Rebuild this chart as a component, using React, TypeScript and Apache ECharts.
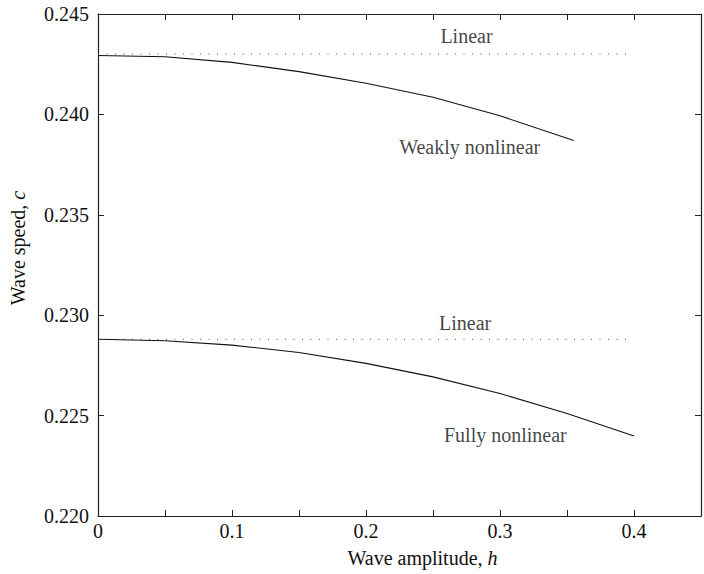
import React, { useEffect, useRef } from "react";
import * as echarts from "echarts";

const FONT = "'Liberation Serif', 'Times New Roman', 'DejaVu Serif', serif";

// Wave amplitude h (x) and wave speed c (y)
const weaklyH = [0, 0.05, 0.1, 0.15, 0.2, 0.25, 0.3, 0.355];
const weaklyC = [0.24293, 0.24287, 0.24259, 0.24213, 0.24155, 0.24085, 0.23993, 0.2387];

const fullyH = [0, 0.05, 0.1, 0.15, 0.2, 0.25, 0.3, 0.35, 0.4];
const fullyC = [0.2288, 0.22873, 0.22851, 0.22814, 0.2276, 0.22693, 0.2261, 0.2251, 0.22398];

const linearUpperH = [0, 0.395];
const linearUpperC = [0.2430, 0.2430];
const linearLowerH = [0, 0.395];
const linearLowerC = [0.2288, 0.2288];

const annotations: [number, number, string][] = [
  [0.275, 0.24388, "Linear"],
  [0.2774, 0.2384, "Weakly nonlinear"],
  [0.274, 0.22962, "Linear"],
  [0.304, 0.22402, "Fully nonlinear"],
];

const xMin = 0, xMax = 0.45, xStep = 0.05;
const yMin = 0.22, yMax = 0.245, yStep = 0.005;

const zip = (xs: number[], ys: number[]) => xs.map((x, i) => [x, ys[i]]);

export default function App() {
  const ref = useRef<HTMLDivElement>(null);
  useEffect(() => {
    if (!ref.current) return;
    const chart = echarts.init(ref.current, undefined, { renderer: "svg" });
    const axisLine = () => ({ show: true, onZero: false, lineStyle: { color: "#222", width: 1.2 } });
    const tick = () => ({ show: true, inside: true, length: 6, lineStyle: { color: "#222", width: 1 } });
    const txt = { fontFamily: FONT, fontSize: 20, color: "#111" };
    chart.setOption({
      animation: false,
      backgroundColor: "#fff",
      textStyle: { fontFamily: FONT },
      grid: { left: 95, right: -4, top: 14, bottom: 58, containLabel: false },
      xAxis: [
        {
          type: "value", min: xMin, max: xMax, interval: xStep, position: "bottom",
          axisLine: axisLine(), axisTick: tick(), splitLine: { show: false },
          axisLabel: {
            ...txt, margin: 5,
            formatter: (v: number) => {
              const r = Math.round(v * 100);
              if (r % 10 !== 0 || r > 40) return "";
              return r === 0 ? "0" : v.toFixed(1);
            },
          },
          name: "Wave amplitude, {i|h}", nameLocation: "middle", nameGap: 32,
          nameTextStyle: { ...txt, padding: [0, 0, 0, 46], rich: { i: { ...txt, fontStyle: "italic" } } },
        },
        {
          type: "value", min: xMin, max: xMax, interval: xStep, position: "top",
          axisLine: axisLine(), axisTick: tick(), axisLabel: { show: false }, splitLine: { show: false },
        },
      ],
      yAxis: [
        {
          type: "value", min: yMin, max: yMax, interval: yStep, position: "left",
          axisLine: axisLine(), axisTick: tick(), splitLine: { show: false },
          axisLabel: { ...txt, margin: 9, formatter: (v: number) => v.toFixed(3) },
          name: "Wave speed, {i|c}", nameLocation: "middle", nameGap: 70, nameRotate: 90,
          nameTextStyle: { ...txt, padding: [0, 0, 0, 34], rich: { i: { ...txt, fontStyle: "italic" } } },
        },
        {
          type: "value", min: yMin, max: yMax, interval: yStep, position: "right",
          axisLine: axisLine(), axisTick: tick(), axisLabel: { show: false }, splitLine: { show: false },
        },
      ],
      series: [
        {
          type: "line", data: zip(linearUpperH, linearUpperC), symbol: "none",
          lineStyle: { color: "#555", width: 1, type: [1, 7.5] },
        },
        {
          type: "line", data: zip(linearLowerH, linearLowerC), symbol: "none",
          lineStyle: { color: "#555", width: 1, type: [1, 7.5] },
        },
        {
          type: "line", data: zip(weaklyH, weaklyC), symbol: "none",
          lineStyle: { color: "#111", width: 1.1 },
        },
        {
          type: "line", data: zip(fullyH, fullyC), symbol: "none",
          lineStyle: { color: "#111", width: 1.1 },
        },
        {
          type: "scatter", symbolSize: 0, data: annotations,
          label: {
            show: true, position: "inside", ...txt,
            formatter: (p: any) => p.data[2],
          },
          silent: true,
        },
      ],
    });
    return () => chart.dispose();
  }, []);
  return (
    <div
      ref={ref}
      style={{ position: "fixed", left: 0, top: 0, width: 704, height: 574, background: "#fff" }}
    />
  );
}
